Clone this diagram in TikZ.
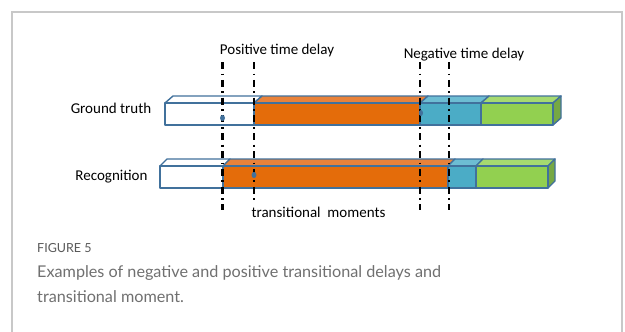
\documentclass[tikz,border=0pt]{standalone}
\usepackage{fontspec}
\usetikzlibrary{shapes.geometric}
\setmainfont{Carlito}
\newfontfamily\capfont{Lato}
\definecolor{edge}{HTML}{41719C}
\definecolor{orng}{HTML}{E46C0A}
\definecolor{orngtop}{HTML}{E8823A}
\definecolor{blu}{HTML}{4BACC6}
\definecolor{blutop}{HTML}{6DBDD3}
\definecolor{grn}{HTML}{92D050}
\definecolor{grntop}{HTML}{A6DA70}
\definecolor{grnside}{HTML}{76A843}
\definecolor{framegray}{HTML}{C8C8C8}
\definecolor{capgray}{HTML}{707070}
\definecolor{figgray}{HTML}{5A5A5A}
\begin{document}
\begin{tikzpicture}[x=1pt,y=-1pt,
  face/.style={draw=edge,line width=1.4pt,line join=round},
  marker/.style={black,line width=2.2pt,dash pattern=on 7pt off 4.5pt on 1.8pt off 4.5pt},
  lbl/.style={font=\fontsize{15}{17}\selectfont,inner sep=0pt},
  dotmark/.style={ellipse,fill=edge,inner sep=0pt,minimum width=5pt,minimum height=6pt}]
\useasboundingbox (0,0) rectangle (625,332);
\fill[white] (0,0) rectangle (625,332);
% frame
\draw[framegray,line width=1.5pt] (12,332) -- (12,12) -- (622,12) -- (622,332);

% ---------- Ground truth bar ----------
\filldraw[face,fill=white] (165,103) -- (173,96) -- (262,96) -- (254,103) -- cycle;
\filldraw[face,fill=orngtop] (254,103) -- (262,96) -- (428,96) -- (420,103) -- cycle;
\filldraw[face,fill=blutop] (420,103) -- (428,96) -- (489,96) -- (481,103) -- cycle;
\filldraw[face,fill=grntop] (481,103) -- (489,96) -- (561,96) -- (553,103) -- cycle;
\filldraw[face,fill=grnside] (553,103) -- (561,96) -- (561,118) -- (553,125) -- cycle;
\filldraw[face,fill=white] (165,103) rectangle (254,125);
\filldraw[face,fill=orng] (254,103) rectangle (420,125);
\filldraw[face,fill=blu] (420,103) rectangle (481,125);
\filldraw[face,fill=grn] (481,103) rectangle (553,125);

% ---------- Recognition bar ----------
\filldraw[face,fill=white] (160,166) -- (167,159) -- (230,159) -- (223,166) -- cycle;
\filldraw[face,fill=orngtop] (223,166) -- (230,159) -- (455,159) -- (448,166) -- cycle;
\filldraw[face,fill=blutop] (448,166) -- (455,159) -- (483,159) -- (476,166) -- cycle;
\filldraw[face,fill=grntop] (476,166) -- (483,159) -- (555,159) -- (548,166) -- cycle;
\filldraw[face,fill=grnside] (548,166) -- (555,159) -- (555,181) -- (548,188) -- cycle;
\filldraw[face,fill=white] (160,166) rectangle (223,188);
\filldraw[face,fill=orng] (223,166) rectangle (448,188);
\filldraw[face,fill=blu] (448,166) rectangle (476,188);
\filldraw[face,fill=grn] (476,166) rectangle (548,188);

% ---------- marker lines ----------
\coordinate (p1t) at (222.5,62); \coordinate (p1b) at (222.5,210);
\coordinate (p2t) at (254,62);   \coordinate (p2b) at (254,203);
\coordinate (n1t) at (420,62);   \coordinate (n1b) at (420,210);
\coordinate (n2t) at (449,62);   \coordinate (n2b) at (449,210);
\draw[marker] (p1t) -- (p1b);
\draw[marker] (p2t) -- (p2b);
\draw[marker] (n1t) -- (n1b);
\draw[marker] (n2t) -- (n2b);

% dots
\node[dotmark] (d1) at (222.5,118) {};
\node[dotmark] (d2) at (254,175) {};
\node[dotmark,minimum width=4pt] (d3) at (421,113) {};

% ---------- labels ----------
\node[lbl] (pos) at (277,51) {Positive time delay};
\node[lbl] (neg) at (464,55) {Negative time delay};
\node[lbl] (gt) at (111,108) {Ground truth};
\node[lbl] (rec) at (111.5,177) {Recognition};
\node[lbl] (tm) at (318.5,212) {transitional\ \ moments};

% ---------- caption ----------
\node[anchor=west,inner sep=0pt,text=figgray,font=\capfont\fontsize{12.5}{14}\selectfont] (fig) at (37,248) {FIGURE 5};
\node[anchor=north west,inner sep=0pt,text=capgray,align=left,
      font=\capfont\fontsize{16.2}{25}\selectfont] (cap) at (37,265.5)
  {Examples of negative and positive transitional delays and\\transitional moment.};
\end{tikzpicture}
\end{document}
